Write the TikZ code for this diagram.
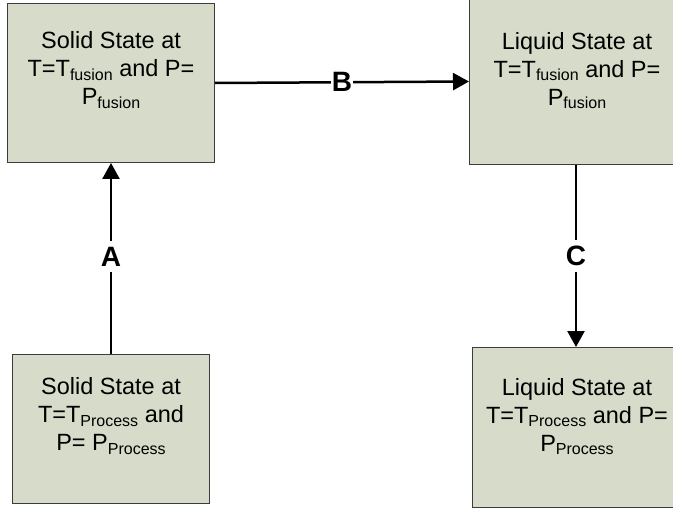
\documentclass[tikz,border=0pt]{standalone}
\usepackage{fontspec}
\setmainfont{Liberation Sans}
\usetikzlibrary{arrows.meta}
\definecolor{boxfill}{RGB}{214,220,201}
\definecolor{boxline}{RGB}{60,60,60}
\newcommand\subt[1]{\raisebox{-3.5pt}{\fontsize{16}{16}\selectfont #1}}
\begin{document}
\begin{tikzpicture}[x=1pt,y=-1pt,
  statebox/.style={draw=boxline,line width=1pt,fill=boxfill,inner sep=0pt,anchor=north west},
  statetext/.style={align=center,font=\fontsize{23.5}{28}\selectfont,inner sep=0pt},
  flow/.style={line width=2.5pt,-{Triangle[length=16pt,width=17pt]}},
  flowlabel/.style={font=\fontsize{28}{28}\selectfont\bfseries,fill=white,inner xsep=1pt,inner ysep=6pt}]
\fill[white] (0,0) rectangle (673,508);
\useasboundingbox (0,0) rectangle (673,508);
\begin{scope}
\clip (0,0) rectangle (673,508);
\node[statebox,minimum width=207pt,minimum height=159pt] (b1) at (7,3) {};
\node[statebox,minimum width=230pt,minimum height=166pt] (b2) at (469,-2) {};
\node[statebox,minimum width=197pt,minimum height=149pt] (b3) at (12,354) {};
\node[statebox,minimum width=230pt,minimum height=160pt] (b4) at (472,347) {};
\end{scope}
\coordinate (cx) at (576,0);
\coordinate (tx) at (577,0);
\node[statetext,yshift=13pt] (t1) at (b1.center) {Solid State at\\T=T\subt{fusion} and P=\\P\subt{fusion}};
\node[statetext,yshift=11pt] (t2) at (b2.center -| tx) {Liquid State at\\T=T\subt{fusion} and P=\\P\subt{fusion}};
\node[statetext,yshift=13pt] (t3) at (b3.center) {Solid State at\\T=T\subt{Process} and\\P= P\subt{Process}};
\node[statetext,yshift=11pt] (t4) at (b4.center -| tx) {Liquid State at\\T=T\subt{Process} and P=\\P\subt{Process}};
\draw[flow] (b3.north) -- node[flowlabel,yshift=2pt] (la) {A} (b1.south);
\draw[flow] (b1.east) -- node[flowlabel] (lb) {B} (b2.west);
\draw[flow] (b2.south -| cx) -- node[flowlabel] (lc) {C} (b4.north -| cx);
\end{tikzpicture}
\end{document}
